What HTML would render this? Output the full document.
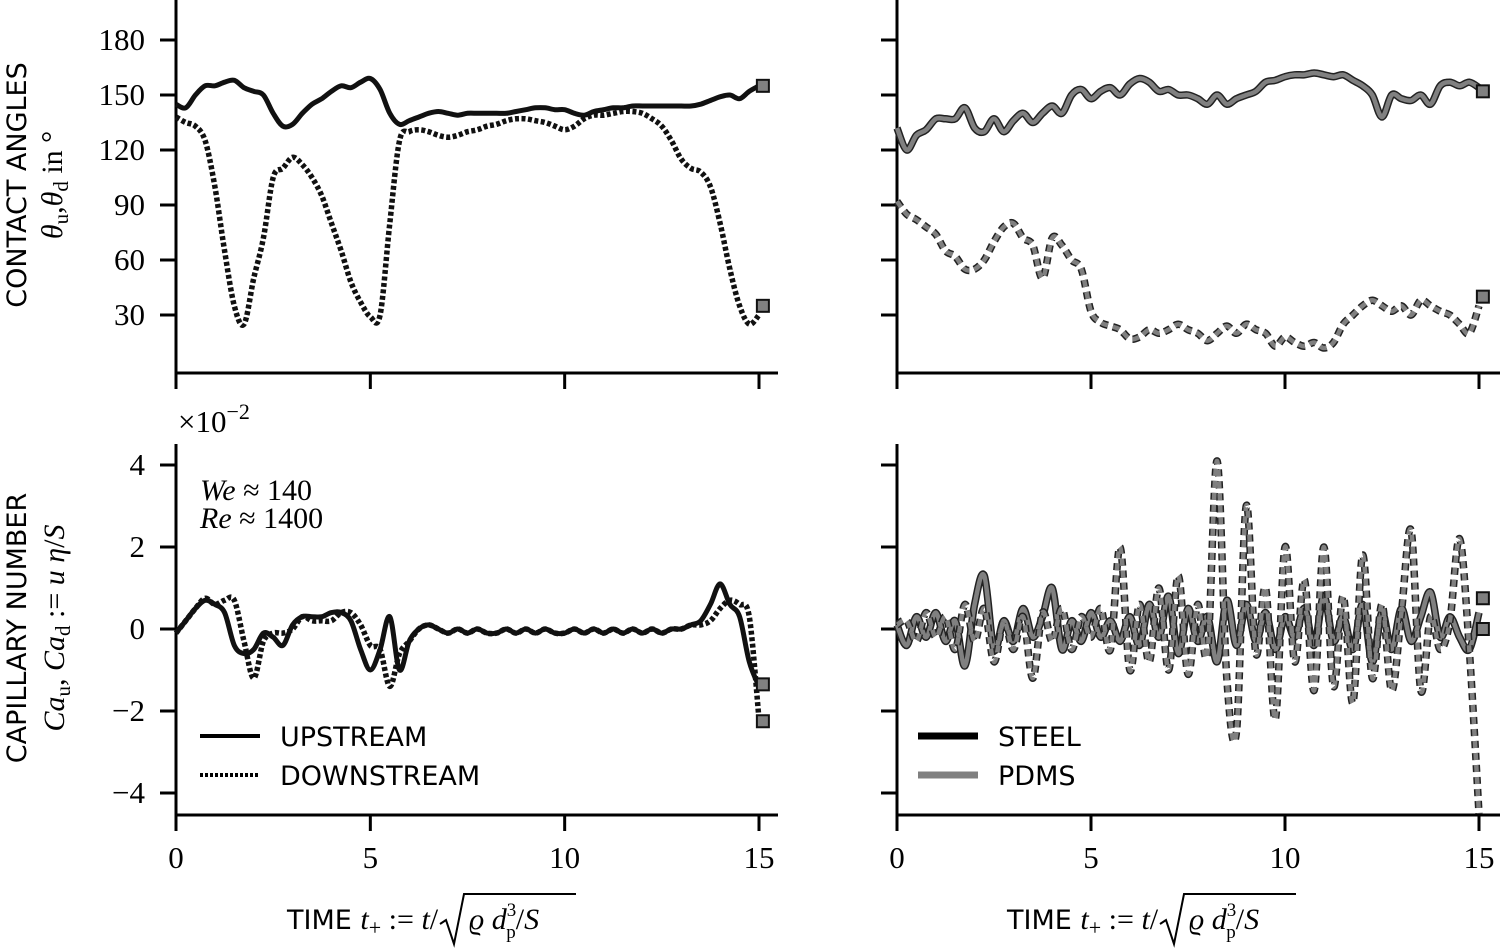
<!DOCTYPE html>
<html><head><meta charset="utf-8"><style>
html,body{margin:0;padding:0;background:#fff;}
svg{display:block;}
.tk{font-family:"Liberation Serif",serif;font-size:31px;fill:#000;}
.sn{font-family:"DejaVu Sans","Liberation Sans",sans-serif;font-size:27px;fill:#000;}
.mi{font-family:"Liberation Serif",serif;font-style:italic;font-size:30px;fill:#000;}
</style></head><body>
<svg id="fig" width="1500" height="950" viewBox="0 0 1500 950" xmlns="http://www.w3.org/2000/svg">
<g id="axes"></g>
<g id="lines"></g>
<g id="labels">
<text class="sn" transform="translate(26,185) rotate(-90)" text-anchor="middle" font-size="28">CONTACT ANGLES</text>
<text class="mi" transform="translate(62,185) rotate(-90)" text-anchor="middle">θ<tspan font-size="21" dy="6" font-style="normal">u</tspan><tspan dy="-6" font-style="normal">,</tspan>θ<tspan font-size="21" dy="6" font-style="normal">d</tspan><tspan dy="-6" font-style="normal"> in °</tspan></text>
<text class="sn" transform="translate(26,628) rotate(-90)" text-anchor="middle" font-size="28">CAPILLARY NUMBER</text>
<text class="mi" transform="translate(64,628) rotate(-90)" text-anchor="middle">Ca<tspan font-size="21" dy="6" font-style="normal">u</tspan><tspan dy="-6" font-style="normal">, </tspan>Ca<tspan font-size="21" dy="6" font-style="normal">d</tspan><tspan dy="-6" font-style="normal"> := </tspan>u η<tspan font-style="normal">/</tspan>S</text>
<text class="tk" x="178" y="432">×10<tspan font-size="22" dy="-13">−2</tspan></text>
<text class="mi" x="200" y="500" font-size="27">We <tspan font-style="normal">≈ 140</tspan></text>
<text class="mi" x="200" y="528" font-size="27">Re <tspan font-style="normal">≈ 1400</tspan></text>
</g>
</svg>
<script>
// time grid (step 0.25)
const times = [];
for (let i = 0; i <= 60; i++) times.push(i * 0.25);
const thetaSteelUp = [145,143,150,155,155,157,158,154,152,150,140,133,134,140,145,148,152,155,154,157,159,153,140,134,136,138,140,141,140,139,140,140,140,140,140,141,142,143,143,142,142,140,139,141,142,143,143,144,144,144,144,144,144,144,145,147,149,150,148,152,155];
const thetaSteelDown = [138,135,133,125,100,65,35,25,50,72,105,110,116,112,105,95,80,65,48,37,29,30,80,125,130,131,130,128,127,128,130,131,133,134,136,137,137,136,135,133,131,133,137,139,139,140,141,141,140,137,133,125,115,110,108,100,80,55,35,25,30];
const thetaPdmsUp = [132,120,128,131,137,137,137,143,132,130,137,130,136,140,135,140,144,140,150,153,148,152,154,150,156,159,157,152,153,150,150,148,145,150,145,148,150,152,157,158,160,161,161,162,161,160,161,158,155,150,138,150,148,147,150,145,155,157,155,157,154];
const thetaPdmsDown = [92,85,82,78,74,65,62,55,55,60,70,78,80,72,68,50,72,68,60,55,32,26,24,22,17,18,22,20,22,25,22,20,16,20,24,20,25,22,20,13,18,15,13,15,12,15,25,30,35,38,35,32,35,30,38,35,32,30,25,20,35];
const caSteelUp = [-0.1,0.2,0.5,0.7,0.6,0.4,-0.4,-0.6,-0.5,-0.1,-0.2,-0.4,0.1,0.3,0.3,0.3,0.4,0.4,0.2,-0.5,-1.0,-0.5,0.3,-1.0,-0.3,0,0.1,0,-0.1,0,-0.1,0,-0.1,-0.1,0,-0.1,0,-0.1,0,-0.1,-0.1,0,-0.1,0,-0.1,0,-0.1,0,-0.1,0,-0.1,0,0,0.1,0.2,0.6,1.1,0.6,0.3,-0.8,-1.4];
const caSteelDown = [-0.1,0.2,0.5,0.75,0.6,0.7,0.7,-0.3,-1.2,-0.3,-0.1,-0.1,0,0.3,0.2,0.2,0.2,0.4,0.4,0.1,-0.4,-0.5,-1.4,-0.6,-0.3,0,0.1,0,-0.1,0,-0.1,0,-0.1,-0.1,0,-0.1,0,-0.1,0,-0.1,-0.1,0,-0.1,0,-0.1,0,-0.1,0,-0.1,0,-0.1,0,0,0.1,0.1,0.2,0.5,0.7,0.6,0.3,-2.2];
const caPdmsUp = [0.1,-0.4,0.3,-0.2,0.4,-0.3,0.2,-0.9,0.6,1.3,-0.5,0.2,-0.3,0.5,-0.2,0.3,1.0,-0.5,0.2,-0.3,0.4,-0.2,0.2,-0.3,0.3,-0.4,0.6,-0.2,0.8,-0.6,0.5,-0.3,0.3,-0.8,0.7,-0.4,0.6,-0.3,0.4,-0.5,0.3,-0.2,0.5,-0.4,0.8,-0.3,0.3,-0.5,0.6,-0.8,0.4,-0.5,0.5,-0.3,0.3,0.9,-0.2,0.3,-0.2,-0.5,0.4];
const caPdmsDown = [0.1,0.2,-0.3,0.4,-0.2,0.3,-0.5,0.6,-0.3,0.5,-0.8,0.2,-0.5,0.3,-1.2,0.4,-0.3,0.5,-0.5,0.3,-0.2,0.5,-0.5,2.0,-1.0,0.6,-0.8,1.0,-1.0,1.3,-1.1,0.6,-0.6,4.1,-1.2,-2.5,3.0,-0.6,1.0,-2.2,2.0,-0.8,1.2,-1.5,2.0,-1.4,0.8,-1.8,1.8,-1.2,0.6,-1.5,0.4,2.4,-1.5,0.3,-0.5,0.2,2.2,-0.5,-4.5];
const endMarkers = {tl:[155,35], tr:[152,40], bl:[-1.35,-2.25], br:[0.75,0]};
const xTicks = [0,5,10,15];
const thetaTicks = [30,60,90,120,150,180];
const caTicks = [-4,-2,0,2,4];
const caTickLabels = ["−4","−2","0","2","4"];

const NS = "http://www.w3.org/2000/svg";
const axesG = document.getElementById('axes');
const linesG = document.getElementById('lines');
function mk(tag, attrs, parent){const e=document.createElementNS(NS,tag);for(const k in attrs)e.setAttribute(k,attrs[k]);(parent||axesG).appendChild(e);return e;}

const panels = {
  tl:{x0:176,x15:759,right:778,top:0,bottom:373,v0:30,p0:315,v1:180,p1:40,ticks:thetaTicks,labels:thetaTicks.map(String),showX:false},
  tr:{x0:897,x15:1479,right:1500,top:0,bottom:373,v0:30,p0:315,v1:180,p1:40,ticks:thetaTicks,labels:null,showX:false},
  bl:{x0:176,x15:759,right:778,top:444,bottom:815,v0:-4,p0:793,v1:4,p1:465,ticks:caTicks,labels:caTickLabels,showX:true},
  br:{x0:897,x15:1479,right:1500,top:444,bottom:815,v0:-4,p0:793,v1:4,p1:465,ticks:caTicks,labels:null,showX:true}
};
function xs(p,t){return p.x0+(p.x15-p.x0)*t/15;}
function ys(p,v){return p.p0+(p.p1-p.p0)*(v-p.v0)/(p.v1-p.v0);}

for (const key in panels){
  const p = panels[key];
  const ls = mk('line',{x1:p.x0,y1:p.top,x2:p.x0,y2:p.bottom+1.5,stroke:'#000','stroke-width':3});
  
  
  const bs = mk('line',{x1:p.x0-1.5,y1:p.bottom,x2:p.right,y2:p.bottom,stroke:'#000','stroke-width':3});
  
  
  p.ticks.forEach((v,i)=>{
    const y=ys(p,v);
    const t=mk('line',{x1:p.x0-16,y1:y,x2:p.x0,y2:y,stroke:'#000','stroke-width':3});
    
    
    if(p.labels){
      const tx=mk('text',{x:p.x0-31,y:y+10,'text-anchor':'end','class':'tk'});
      
      
      tx.textContent=p.labels[i];
    }
  });
  xTicks.forEach(v=>{
    const x=xs(p,v);
    const t=mk('line',{x1:x,y1:p.bottom,x2:x,y2:p.bottom+16,stroke:'#000','stroke-width':3});
    
    
    if(p.showX){
      const tx=mk('text',{x:x,y:p.bottom+53,'text-anchor':'middle','class':'tk'});
      
      
      tx.textContent=String(v);
    }
  });
}

function pathD(p, vals){
  const pts = vals.map((v,i)=>[xs(p,times[i]), ys(p,v)]);
  let d='M'+pts[0][0].toFixed(1)+','+pts[0][1].toFixed(1);
  for(let i=0;i<pts.length-1;i++){
    const p0=pts[Math.max(0,i-1)],p1=pts[i],p2=pts[i+1],p3=pts[Math.min(pts.length-1,i+2)];
    const c1=[p1[0]+(p2[0]-p0[0])/6,p1[1]+(p2[1]-p0[1])/6];
    const c2=[p2[0]-(p3[0]-p1[0])/6,p2[1]-(p3[1]-p1[1])/6];
    d+='C'+c1[0].toFixed(1)+','+c1[1].toFixed(1)+' '+c2[0].toFixed(1)+','+c2[1].toFixed(1)+' '+p2[0].toFixed(1)+','+p2[1].toFixed(1);
  }
  return d;
}
function drawSeries(key, vals, gray, dotted, name){
  const p=panels[key];
  const d=pathD(p,vals);
  if(gray){
    const o=mk('path',{d:d,fill:'none',stroke:'#222','stroke-width':7.5,'stroke-dasharray':dotted?'7,5':'none','stroke-linejoin':'round'},linesG);
    
    
    const l=mk('path',{d:d,fill:'none',stroke:'#808080','stroke-width':4.5,'stroke-dasharray':dotted?'7,5':'none','stroke-linejoin':'round'},linesG);
    
    
  } else {
    const l=mk('path',{d:d,fill:'none',stroke:'#111','stroke-width':dotted?5.5:5,'stroke-dasharray':dotted?'4,2.5':'none','stroke-linejoin':'round'},linesG);
    
    
  }
}
drawSeries('tl',thetaSteelDown,false,true,'theta-steel-downstream');
drawSeries('tl',thetaSteelUp,false,false,'theta-steel-upstream');
drawSeries('tr',thetaPdmsDown,true,true,'theta-pdms-downstream');
drawSeries('tr',thetaPdmsUp,true,false,'theta-pdms-upstream');
drawSeries('bl',caSteelDown,false,true,'ca-steel-downstream');
drawSeries('bl',caSteelUp,false,false,'ca-steel-upstream');
drawSeries('br',caPdmsUp,true,false,'ca-pdms-upstream');
drawSeries('br',caPdmsDown,true,true,'ca-pdms-downstream');

for(const key in endMarkers){
  const p=panels[key];
  endMarkers[key].forEach(v=>{
    const x=xs(p,15.1), y=ys(p,v);
    const r=mk('rect',{x:x-6,y:y-6,width:12,height:12,fill:'#808080',stroke:'#111','stroke-width':2},linesG);
    
    
  });
}

function legendEntry(x,y,label,style,name){
  const l=mk('line',{x1:x,y1:y,x2:x+60,y2:y,stroke:style.c,'stroke-width':style.w,'stroke-dasharray':style.dash||'none'},linesG);
  
  
  const t=mk('text',{x:x+80,y:y+10,'class':'sn'},linesG);
  
  
  t.textContent=label;
}
legendEntry(200,736,'UPSTREAM',{c:'#000',w:4},'legend-upstream');
legendEntry(200,775,'DOWNSTREAM',{c:'#000',w:4,dash:'3,2'},'legend-downstream');
legendEntry(918,736,'STEEL',{c:'#000',w:7},'legend-steel');
legendEntry(918,775,'PDMS',{c:'#808080',w:7},'legend-pdms');

function xTitle(cx,name){
  const g=mk('g',{},document.getElementById('labels'));
  
  
  const t=mk('text',{x:cx-190,y:929,'class':'sn'},g);
  t.innerHTML='TIME <tspan class="mi">t</tspan><tspan font-family="Liberation Serif" font-size="22" dy="6">+</tspan><tspan font-family="Liberation Serif" font-size="30" dy="-6"> := </tspan><tspan class="mi">t</tspan><tspan font-family="Liberation Serif" font-size="30">/</tspan>';
  mk('path',{d:`M${cx-37},924 l6,-4 l8,24 l10,-50 h112`,fill:'none',stroke:'#000','stroke-width':2},g);
  const t2=mk('text',{x:cx-8,y:929,'class':'mi'},g);
  t2.innerHTML='ϱ d<tspan font-style="normal" font-size="19" dy="-13">3</tspan><tspan font-style="normal" font-size="19" dx="-10" dy="22">p</tspan><tspan font-style="normal" dy="-9">/</tspan>S';
}
xTitle(477,'x-axis-title-left');
xTitle(1197,'x-axis-title-right');
</script>
</body></html>
